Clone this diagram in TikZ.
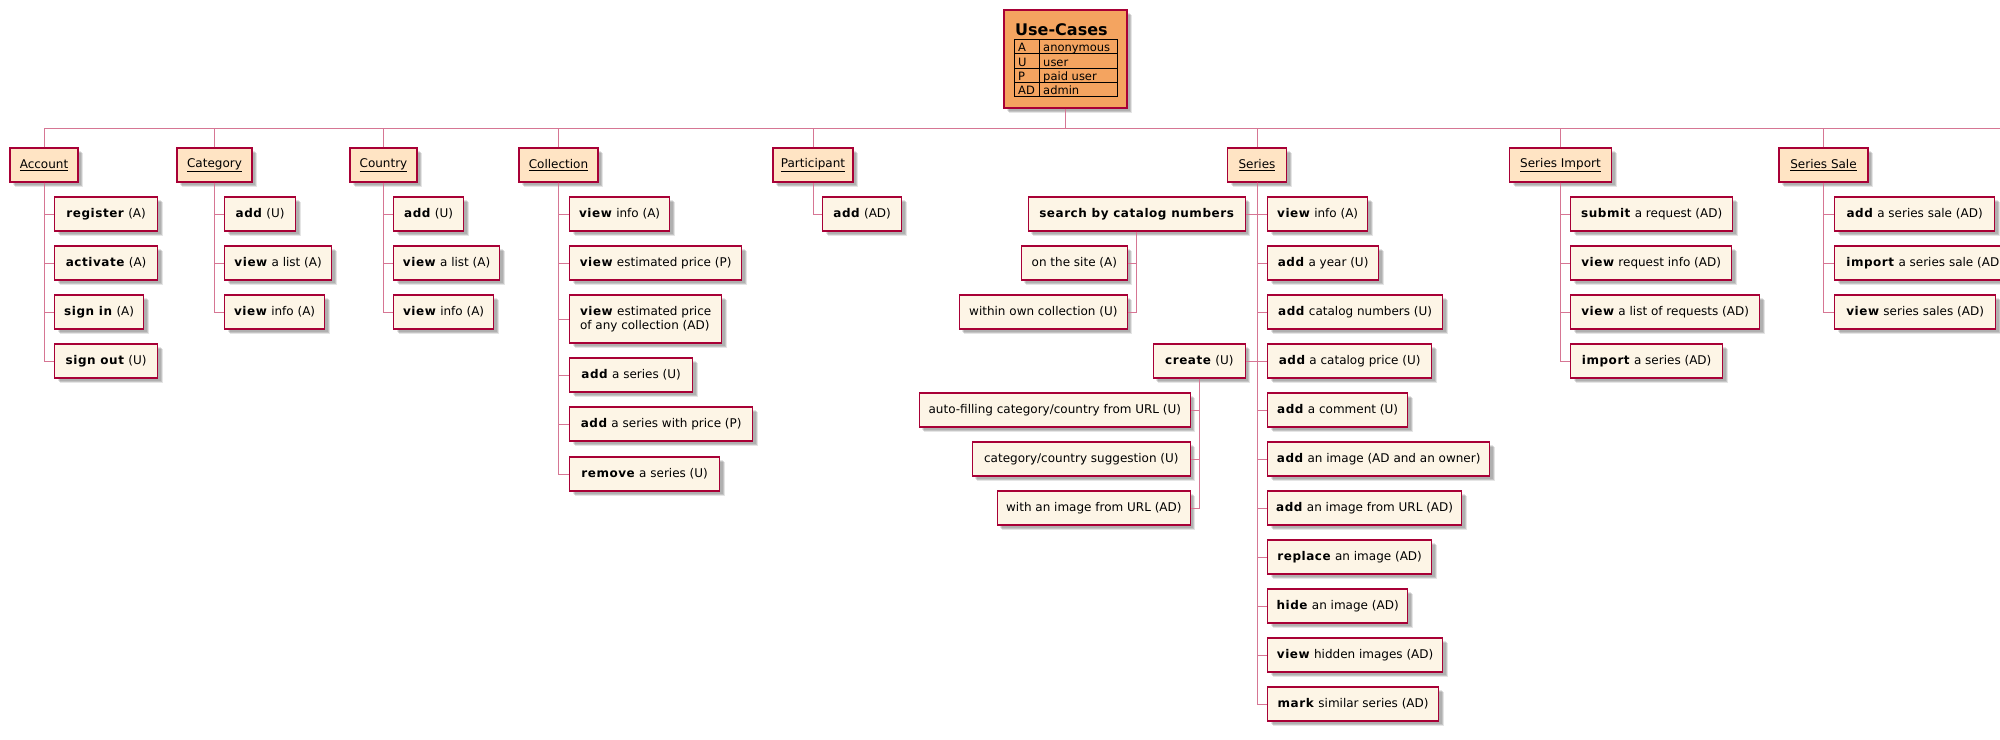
\documentclass[tikz,border=0pt]{standalone}
\usepackage{fontspec}
\setmainfont{DejaVu Sans}[BoldFeatures={LetterSpace=4.5}]
\newfontfamily\ttlfont{DejaVu Sans}[BoldFont={DejaVu Sans Bold}]
\usetikzlibrary{shadows}
\definecolor{crim}{HTML}{A80036}
\definecolor{connc}{RGB}{214,118,148}
\definecolor{catfill}{HTML}{FFE4C4}
\definecolor{itemfill}{HTML}{FDF5E6}
\definecolor{ucfill}{HTML}{F4A460}
\tikzset{
  boxbase/.style={draw=crim, line width=1.3pt, minimum height=34pt, inner xsep=0pt, inner ysep=0pt,
    font=\fontsize{12}{14}\selectfont,
    drop shadow={shadow xshift=5pt, shadow yshift=-5pt, fill=black, opacity=0.10},
    drop shadow={shadow xshift=4pt, shadow yshift=-4pt, fill=black, opacity=0.14},
    drop shadow={shadow xshift=3pt, shadow yshift=-3pt, fill=black, opacity=0.10}},
  catbox/.style={boxbase, fill=catfill},
  itembox/.style={boxbase, fill=itemfill},
  conn/.style={draw=connc, line width=1pt},
  tbltext/.style={inner sep=0pt, anchor=base west, font=\fontsize{11.5}{13}\selectfont},
}
\begin{document}
\begin{tikzpicture}[x=1pt,y=-1pt]
\useasboundingbox (0,0) rectangle (2000,739);
\clip (0,0) rectangle (2000,739);
\fill[white] (0,0) rectangle (2000,739);

% legend box
\node[boxbase, fill=ucfill, minimum width=123pt, minimum height=98pt] (uc) at (1065.5,59) {};
\node[inner sep=0pt, anchor=base west, font=\fontsize{16}{18}\ttlfont\bfseries] (uct) at (1015,35) {Use-Cases};
\draw[black, line width=1pt] (1014,39.3) rectangle (1117,96.7);
\draw[black, line width=1pt] (1014,53.7) -- (1117,53.7) (1014,68.3) -- (1117,68.3) (1014,82.7) -- (1117,82.7) (1039,39.3) -- (1039,96.7);
\node[tbltext] (ta1) at (1018,51.6) {A};
\node[tbltext] (tb1) at (1043,51.6) {anonymous};
\node[tbltext] (ta2) at (1018,66.1) {U};
\node[tbltext] (tb2) at (1043,66.1) {user};
\node[tbltext] (ta3) at (1018,80.5) {P};
\node[tbltext] (tb3) at (1043,80.5) {paid user};
\node[tbltext] (ta4) at (1018,94.6) {AD};
\node[tbltext] (tb4) at (1043,94.6) {admin};

% bar
\coordinate (barL) at (44,128);
\coordinate (barR) at (2000,128);
\draw[conn] (barL) -- (barR);
\draw[conn] (uc.south) -- (uc.south |- barL);

% categories
\node[catbox, minimum width=68pt] (acc) at (44,165) {\underline{Account}};
\node[catbox, minimum width=75pt] (cat) at (214.5,165) {\underline{Category}};
\node[catbox, minimum width=67pt] (cou) at (383.5,165) {\underline{Country}};
\node[catbox, minimum width=79pt] (col) at (558.5,165) {\underline{Collection}};
\node[catbox, minimum width=80pt] (par) at (813,165) {\underline{Participant}};
\node[catbox, minimum width=59pt] (ser) at (1257,165) {\underline{Series}};
\node[catbox, minimum width=102pt] (imp) at (1560.5,165) {\underline{Series Import}};
\node[catbox, minimum width=89pt] (sal) at (1823.5,165) {\underline{Series Sale}};
\foreach \n in {acc,cat,cou,col,par,ser,imp,sal} \draw[conn] (\n.north) -- (\n.north |- barL);

% Account
\node[itembox, anchor=west, minimum width=103pt] (acc1) at (54,214) {\textbf{register} (A)};
\node[itembox, anchor=west, minimum width=103pt] (acc2) at (54,263) {\textbf{activate} (A)};
\node[itembox, anchor=west, minimum width=89pt] (acc3) at (54,312) {\textbf{sign in} (A)};
\node[itembox, anchor=west, minimum width=103pt] (acc4) at (54,361) {\textbf{sign out} (U)};
\foreach \n in {acc1,acc2,acc3,acc4} \draw[conn] (acc.south) |- (\n.west);

% Category
\node[itembox, anchor=west, minimum width=71pt] (cat1) at (224,214) {\textbf{add} (U)};
\node[itembox, anchor=west, minimum width=107pt] (cat2) at (224,263) {\textbf{view} a list (A)};
\node[itembox, anchor=west, minimum width=100pt] (cat3) at (224,312) {\textbf{view} info (A)};
\foreach \n in {cat1,cat2,cat3} \draw[conn] (cat.south) |- (\n.west);

% Country
\node[itembox, anchor=west, minimum width=70pt] (cou1) at (393,214) {\textbf{add} (U)};
\node[itembox, anchor=west, minimum width=106pt] (cou2) at (393,263) {\textbf{view} a list (A)};
\node[itembox, anchor=west, minimum width=100pt] (cou3) at (393,312) {\textbf{view} info (A)};
\foreach \n in {cou1,cou2,cou3} \draw[conn] (cou.south) |- (\n.west);

% Collection
\node[itembox, anchor=west, minimum width=100pt] (col1) at (569,214) {\textbf{view} info (A)};
\node[itembox, anchor=west, minimum width=172pt] (col2) at (569,263) {\textbf{view} estimated price (P)};
\node[itembox, anchor=west, minimum width=152pt, minimum height=48pt, align=left] (col3) at (569,319) {\textbf{view} estimated price\\of any collection (AD)};
\node[itembox, anchor=west, minimum width=123pt] (col4) at (569,375) {\textbf{add} a series (U)};
\node[itembox, anchor=west, minimum width=183pt] (col5) at (569,424) {\textbf{add} a series with price (P)};
\node[itembox, anchor=west, minimum width=150pt] (col6) at (569,474) {\textbf{remove} a series (U)};
\foreach \n in {col1,col2,col3,col4,col5,col6} \draw[conn] (col.south) |- (\n.west);

% Participant
\node[itembox, anchor=west, minimum width=79pt] (par1) at (822,214) {\textbf{add} (AD)};
\draw[conn] (par.south) |- (par1.west);

% Series (right side)
\node[itembox, anchor=west, minimum width=100pt] (ser1) at (1267,214) {\textbf{view} info (A)};
\node[itembox, anchor=west, minimum width=111pt] (ser2) at (1267,263) {\textbf{add} a year (U)};
\node[itembox, anchor=west, minimum width=175pt] (ser3) at (1267,312) {\textbf{add} catalog numbers (U)};
\node[itembox, anchor=west, minimum width=164pt] (ser4) at (1267,361) {\textbf{add} a catalog price (U)};
\node[itembox, anchor=west, minimum width=140pt] (ser5) at (1267,410) {\textbf{add} a comment (U)};
\node[itembox, anchor=west, minimum width=222pt] (ser6) at (1267,459) {\textbf{add} an image (AD and an owner)};
\node[itembox, anchor=west, minimum width=194pt] (ser7) at (1267,508) {\textbf{add} an image from URL (AD)};
\node[itembox, anchor=west, minimum width=164pt] (ser8) at (1267,557) {\textbf{replace} an image (AD)};
\node[itembox, anchor=west, minimum width=140pt] (ser9) at (1267,606) {\textbf{hide} an image (AD)};
\node[itembox, anchor=west, minimum width=175pt] (ser10) at (1267,655) {\textbf{view} hidden images (AD)};
\node[itembox, anchor=west, minimum width=171pt] (ser11) at (1267,704) {\textbf{mark} similar series (AD)};
\foreach \n in {ser1,ser2,ser3,ser4,ser5,ser6,ser7,ser8,ser9,ser10,ser11} \draw[conn] (ser.south) |- (\n.west);

% Series (left side)
\node[itembox, anchor=east, minimum width=217pt] (sea) at (1246,214) {\textbf{search by catalog numbers}};
\node[itembox, anchor=east, minimum width=106pt] (sea1) at (1128,263) {on the site (A)};
\node[itembox, anchor=east, minimum width=168pt] (sea2) at (1128,312) {within own collection (U)};
\node[itembox, anchor=east, minimum width=92pt] (cre) at (1246,361) {\textbf{create} (U)};
\node[itembox, anchor=east, minimum width=271pt] (cre1) at (1191,410) {auto-filling category/country from URL (U)};
\node[itembox, anchor=east, minimum width=218pt] (cre2) at (1191,459) {category/country suggestion (U)};
\node[itembox, anchor=east, minimum width=193pt] (cre3) at (1191,508) {with an image from URL (AD)};
\draw[conn] (ser.south) |- (sea.east);
\draw[conn] (ser.south) |- (cre.east);
\foreach \n in {sea1,sea2} \draw[conn] (sea.south) |- (\n.east);
\foreach \n in {cre1,cre2,cre3} \draw[conn] (cre.south) |- (\n.east);

% Series Import
\node[itembox, anchor=west, minimum width=162pt] (imp1) at (1570,214) {\textbf{submit} a request (AD)};
\node[itembox, anchor=west, minimum width=161pt] (imp2) at (1570,263) {\textbf{view} request info (AD)};
\node[itembox, anchor=west, minimum width=189pt] (imp3) at (1570,312) {\textbf{view} a list of requests (AD)};
\node[itembox, anchor=west, minimum width=152pt] (imp4) at (1570,361) {\textbf{import} a series (AD)};
\foreach \n in {imp1,imp2,imp3,imp4} \draw[conn] (imp.south) |- (\n.west);

% Series Sale
\node[itembox, anchor=west, minimum width=160pt] (sal1) at (1834,214) {\textbf{add} a series sale (AD)};
\node[itembox, anchor=west, minimum width=181pt] (sal2) at (1834,263) {\textbf{import} a series sale (AD)};
\node[itembox, anchor=west, minimum width=161pt] (sal3) at (1834,312) {\textbf{view} series sales (AD)};
\foreach \n in {sal1,sal2,sal3} \draw[conn] (sal.south) |- (\n.west);
\end{tikzpicture}
\end{document}
